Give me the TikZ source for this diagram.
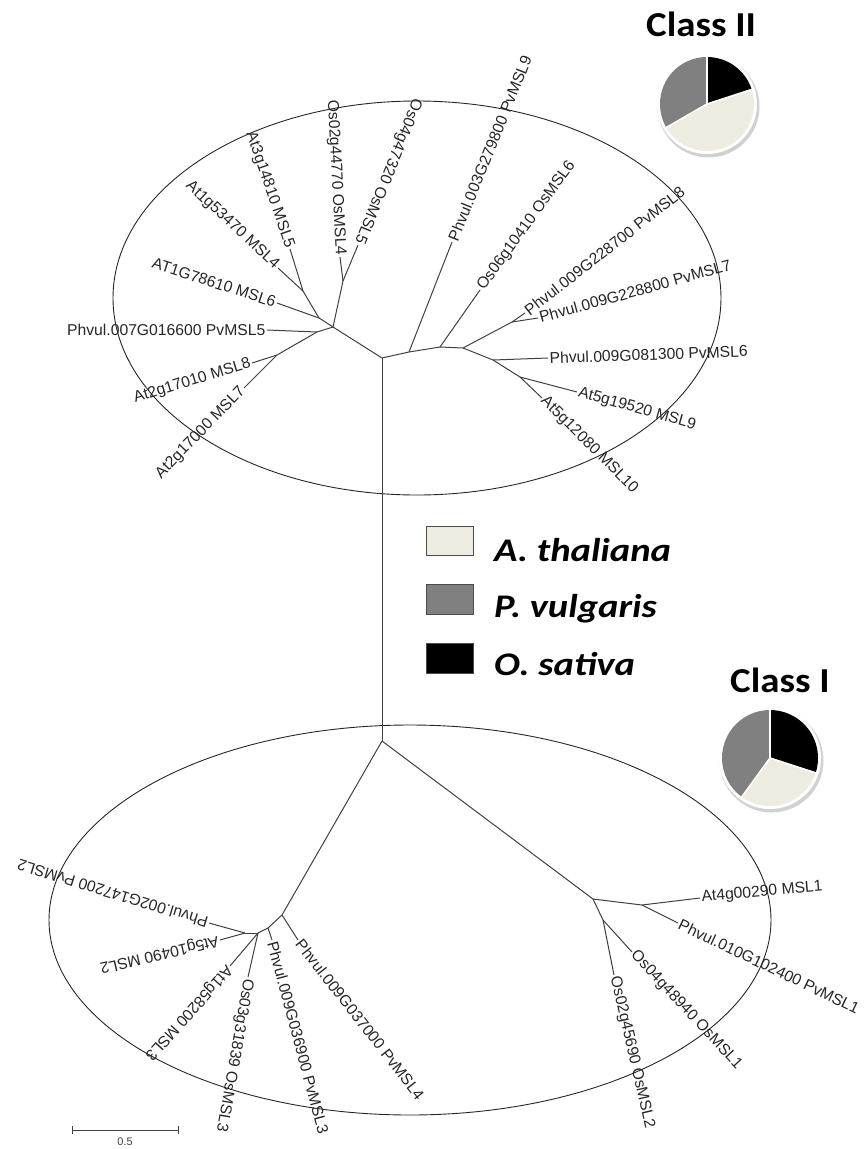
\documentclass[tikz,border=0pt]{standalone}
\usepackage{fontspec}
\newfontfamily\labfont{Liberation Sans}
\newfontfamily\calfont{Carlito}
\definecolor{beige}{HTML}{EEECE1}
\definecolor{pgray}{HTML}{808080}
\definecolor{brc}{HTML}{404040}
\newcommand\lbf{\labfont\fontsize{15.7}{15.7}\selectfont}
\newcommand\legw[1]{\scalebox{1.17}[1]{#1}}
\newcommand\clsw[1]{\scalebox{1.11}[1]{#1}}
\tikzset{
  br/.style={draw=brc, line width=1pt},
  oval/.style={draw=black!85, line width=0.9pt},
  lab/.style={font=\lbf, inner sep=1.5pt, text=black!85},
  labE/.style={lab, anchor=east},
  labW/.style={lab, anchor=west},
  legbox/.style={draw=black!70, line width=0.8pt},
  legtext/.style={font=\calfont\bfseries\itshape\fontsize{33}{33}\selectfont, anchor=base west, inner sep=0pt},
  classtext/.style={font=\calfont\bfseries\fontsize{35}{35}\selectfont, anchor=base west, inner sep=0pt},
}
\begin{document}
\begin{tikzpicture}[x=1pt,y=-1pt]
\useasboundingbox (0,0) rectangle (867,1149);

% ellipses
\draw[oval] (417,298) ellipse [x radius=304, y radius=197];
\draw[oval] (410,920) ellipse [x radius=361, y radius=195];

% ---------- top tree ----------
\coordinate (T0) at (382,358);
\coordinate (a1) at (333,327);
\coordinate (osj) at (343,281);
\coordinate (tOs02) at (340,257);
\coordinate (tOs04) at (358,245);
\coordinate (a2) at (319,318);
\coordinate (a3) at (303,291);
\coordinate (tAt3) at (290,249);
\coordinate (tAt153) at (278,268);
\coordinate (tAT178) at (277,303);
\coordinate (a4) at (317,332);
\coordinate (tPv5) at (267,330);
\coordinate (a5) at (277,355);
\coordinate (tAt217010) at (252,363);
\coordinate (tAt217000) at (244,388);
\coordinate (R0) at (409,352);
\coordinate (tPv9) at (452,242);
\coordinate (R1) at (440,347);
\coordinate (tOs06) at (480,290);
\coordinate (R2) at (463,348);
\coordinate (R5) at (512,322);
\coordinate (tPv8) at (525,313);
\coordinate (tPv7) at (538,318);
\coordinate (R3) at (493,360);
\coordinate (tPv6) at (548,358);
\coordinate (R4) at (520,377);
\coordinate (tAt519520) at (577,392);
\coordinate (tAt512080) at (542,398);

% ---------- bottom tree ----------
\coordinate (B0) at (382,741);
\coordinate (BL0) at (282,915);
\coordinate (tPv4) at (298,940);
\coordinate (BL1) at (268,928);
\coordinate (tPv3) at (272,940);
\coordinate (BL2) at (258,933);
\coordinate (b3) at (245,933);
\coordinate (tPv2) at (209,923);
\coordinate (tAt510490) at (220,940);
\coordinate (tAt158200) at (230,966);
\coordinate (tOs03) at (248,977);
\coordinate (BR0) at (593,899);
\coordinate (BR1) at (642,905);
\coordinate (tAt4) at (700,898);
\coordinate (tPv1) at (678,923);
\coordinate (BR2) at (603,920);
\coordinate (tOs0448940) at (632,952);
\coordinate (tOs0245690) at (614,975);

% trunk
\draw[br] (T0) -- (B0);
% top left clade
\draw[br] (T0) -- (a1);
\draw[br] (a1) -- (osj);
\draw[br] (osj) -- (tOs02);
\draw[br] (osj) -- (tOs04);
\draw[br] (a1) -- (a2);
\draw[br] (a2) -- (a3);
\draw[br] (a3) -- (tAt3);
\draw[br] (a3) -- (tAt153);
\draw[br] (a2) -- (tAT178);
\draw[br] (a1) -- (a4);
\draw[br] (a4) -- (tPv5);
\draw[br] (a4) -- (a5);
\draw[br] (a5) -- (tAt217010);
\draw[br] (a5) -- (tAt217000);
% top right clade
\draw[br] (T0) -- (R0);
\draw[br] (R0) -- (tPv9);
\draw[br] (R0) -- (R1);
\draw[br] (R1) -- (tOs06);
\draw[br] (R1) -- (R2);
\draw[br] (R2) -- (R5);
\draw[br] (R5) -- (tPv8);
\draw[br] (R5) -- (tPv7);
\draw[br] (R2) -- (R3);
\draw[br] (R3) -- (tPv6);
\draw[br] (R3) -- (R4);
\draw[br] (R4) -- (tAt519520);
\draw[br] (R4) -- (tAt512080);
% bottom left clade
\draw[br] (B0) -- (BL0);
\draw[br] (BL0) -- (tPv4);
\draw[br] (BL0) -- (BL1);
\draw[br] (BL1) -- (tPv3);
\draw[br] (BL1) -- (BL2);
\draw[br] (BL2) -- (b3);
\draw[br] (b3) -- (tPv2);
\draw[br] (b3) -- (tAt510490);
\draw[br] (BL2) -- (tAt158200);
\draw[br] (BL2) -- (tOs03);
% bottom right clade
\draw[br] (B0) -- (BR0);
\draw[br] (BR0) -- (BR1);
\draw[br] (BR1) -- (tAt4);
\draw[br] (BR1) -- (tPv1);
\draw[br] (BR0) -- (BR2);
\draw[br] (BR2) -- (tOs0448940);
\draw[br] (BR2) -- (tOs0245690);

% ---------- labels ----------
\node[labE, rotate=0]    (lPv5)  at (tPv5) {Phvul.007G016600 PvMSL5};
\node[labE, rotate=-18]  (lAT178) at (tAT178) {AT1G78610 MSL6};
\node[labE, rotate=-43]  (lAt153) at (tAt153) {At1g53470 MSL4};
\node[labE, rotate=-71]  (lAt3)  at (tAt3) {At3g14810 MSL5};
\node[labE, rotate=-87]  (lOs02) at (tOs02) {Os02g44770 OsMSL4};
\node[labE, rotate=-112] (lOs04) at (tOs04) {Os04g47320 OsMSL5};
\node[labW, rotate=68]   (lPv9)  at (tPv9) {Phvul.003G279800 PvMSL9};
\node[labW, rotate=54]   (lOs06) at (tOs06) {Os06g10410 OsMSL6};
\node[labW, rotate=38]   (lPv8)  at (tPv8) {Phvul.009G228700 PvMSL8};
\node[labW, rotate=15.5] (lPv7)  at (tPv7) {Phvul.009G228800 PvMSL7};
\node[labW, rotate=2]    (lPv6)  at (tPv6) {Phvul.009G081300 PvMSL6};
\node[labW, rotate=-16]  (lAt519520) at (tAt519520) {At5g19520 MSL9};
\node[labW, rotate=-45]  (lAt512080) at (tAt512080) {At5g12080 MSL10};
\node[labE, rotate=17]   (lAt217010) at (tAt217010) {At2g17010 MSL8};
\node[labE, rotate=46]   (lAt217000) at (tAt217000) {At2g17000 MSL7};

\node[labW, rotate=163]  (lPv2)  at (tPv2) {Phvul.002G147200 PvMSL2};
\node[labW, rotate=193]  (lAt510490) at (tAt510490) {At5g10490 MSL2};
\node[labW, rotate=228]  (lAt158200) at (tAt158200) {At1g58200 MSL3};
\node[labW, rotate=-100] (lOs03) at (tOs03) {Os03g31839 OsMSL3};
\node[labW, rotate=-75]  (lPv3)  at (tPv3) {Phvul.009G036900 PvMSL3};
\node[labW, rotate=-52]  (lPv4)  at (tPv4) {Phvul.009G037000 PvMSL4};
\node[labW, rotate=-77]  (lOs0245690) at (tOs0245690) {Os02g45690 OsMSL2};
\node[labW, rotate=-47]  (lOs0448940) at (tOs0448940) {Os04g48940 OsMSL1};
\node[labW, rotate=-25.5] (lPv1) at (tPv1) {Phvul.010G102400 PvMSL1};
\node[labW, rotate=5]    (lAt4)  at (tAt4) {At4g00290 MSL1};

% ---------- legend ----------
\draw[legbox, fill=beige] (426,526) rectangle (473,555);
\draw[legbox, fill=pgray] (426,584) rectangle (473,614);
\draw[legbox, fill=black] (426,643) rectangle (473,673);
\node[legtext] (tA) at (494,561) {\legw{A. thaliana}};
\node[legtext] (tP) at (494,617) {\legw{P. vulgaris}};
\node[legtext] (tO) at (494,675) {\legw{O. sativa}};

% ---------- pies ----------
\node[classtext] (c2) at (646,36) {\clsw{Class II}};
\node[classtext] (c1) at (730,692) {\clsw{Class I}};

\begin{scope}[shift={(707,104)}, yscale=-1]
  \fill[black!18] (1.5,-2.5) circle[radius=51];
  \fill[white] (0,0) circle[radius=50];
  \fill[black] (0,0) -- (18:47) arc[start angle=18, end angle=90, radius=47] -- cycle;
  \fill[beige] (0,0) -- (-150:47) arc[start angle=-150, end angle=18, radius=47] -- cycle;
  \fill[pgray] (0,0) -- (90:47) arc[start angle=90, end angle=210, radius=47] -- cycle;
  \draw[white, line width=1.6pt] (0,0) -- (90:48) (0,0) -- (18:48) (0,0) -- (210:48);
\end{scope}

\begin{scope}[shift={(770,758)}, yscale=-1]
  \fill[black!18] (1.5,-2.5) circle[radius=52];
  \fill[white] (0,0) circle[radius=51];
  \fill[black] (0,0) -- (-18:48) arc[start angle=-18, end angle=90, radius=48] -- cycle;
  \fill[beige] (0,0) -- (-126:48) arc[start angle=-126, end angle=-18, radius=48] -- cycle;
  \fill[pgray] (0,0) -- (90:48) arc[start angle=90, end angle=234, radius=48] -- cycle;
  \draw[white, line width=1.6pt] (0,0) -- (90:49) (0,0) -- (-18:49) (0,0) -- (234:49);
\end{scope}

% ---------- scale bar ----------
\coordinate (s1) at (72,1130);
\coordinate (s2) at (178,1130);
\draw[brc, line width=1pt] (s1) -- (s2);
\draw[brc, line width=1pt] ([yshift=-4]s1) -- ([yshift=4]s1);
\draw[brc, line width=1pt] ([yshift=-4]s2) -- ([yshift=4]s2);
\node[font=\labfont\fontsize{11}{11}\selectfont, text=black!75, inner sep=0pt] (sl) at (125,1142) {0.5};
\end{tikzpicture}
\end{document}
